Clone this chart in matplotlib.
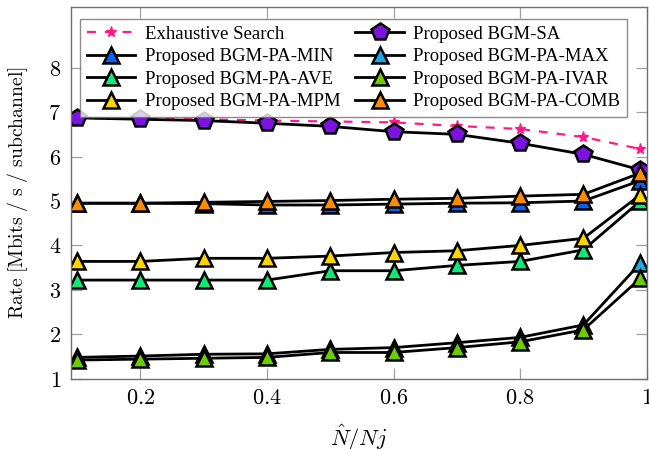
import numpy as np
import matplotlib
matplotlib.use('Agg')
import matplotlib.pyplot as plt

plt.rcParams['mathtext.fontset'] = 'cm'

# N^/Nj ratio
x = [0.1, 0.2, 0.3, 0.4, 0.5, 0.6, 0.7, 0.8, 0.9, 0.99]

# rates [Mbits/s/subchannel]
exhaustive = [6.87, 6.85, 6.84, 6.81, 6.79, 6.77, 6.69, 6.62, 6.44, 6.17]
bgm_sa     = [6.87, 6.84, 6.81, 6.75, 6.68, 6.56, 6.50, 6.30, 6.05, 5.70]
pa_min     = [4.95, 4.95, 4.94, 4.91, 4.91, 4.93, 4.95, 4.96, 5.00, 5.46]
pa_max     = [1.48, 1.51, 1.55, 1.56, 1.66, 1.70, 1.81, 1.93, 2.21, 3.60]
pa_ave     = [3.22, 3.22, 3.22, 3.22, 3.43, 3.43, 3.55, 3.64, 3.90, 5.00]
pa_ivar    = [1.42, 1.44, 1.46, 1.48, 1.59, 1.59, 1.70, 1.83, 2.10, 3.26]
pa_mpm     = [3.64, 3.64, 3.71, 3.71, 3.76, 3.84, 3.88, 4.00, 4.16, 5.14]
pa_comb    = [4.95, 4.95, 4.97, 4.99, 5.01, 5.04, 5.06, 5.11, 5.15, 5.63]

fig = plt.figure(figsize=(6.49, 4.49), dpi=100)
ax = fig.add_axes([71/649, 1-378.7/449, (646.7-71)/649, (378.7-7.3)/449])

h = {}
h['ex'], = ax.plot(x, exhaustive, ls=(0, (4, 4)), color='#ff1a8c', lw=1.6,
                   marker='*', ms=8, mec='#ff1a8c', mfc='#ff1a8c',
                   label='Exhaustive Search')
h['sa'], = ax.plot(x, bgm_sa, color='black', lw=2, marker='p', ms=13,
                   mfc='#7b12e0', mec='black', mew=1.8, label='Proposed BGM-SA')

tri = [('min', pa_min, '#1060f0', 'Proposed BGM-PA-MIN'),
       ('max', pa_max, '#1ea8e8', 'Proposed BGM-PA-MAX'),
       ('ave', pa_ave, '#10e878', 'Proposed BGM-PA-AVE'),
       ('ivar', pa_ivar, '#70cc00', 'Proposed BGM-PA-IVAR'),
       ('mpm', pa_mpm, '#ffd400', 'Proposed BGM-PA-MPM'),
       ('comb', pa_comb, '#ff8c00', 'Proposed BGM-PA-COMB')]
for key, y, c, lab in tri:
    h[key], = ax.plot(x, y, color='black', lw=2, marker='^', ms=11,
                      mfc=c, mec='black', mew=1.8, label=lab)

ax.set_xlim(0.0905, 1.0)
ax.set_ylim(1, 9.36)
ax.set_xticks([0.2, 0.4, 0.6, 0.8, 1.0])
ax.set_xticklabels(['$0.2$', '$0.4$', '$0.6$', '$0.8$', '$1$'])
ax.set_yticks(range(1, 9))
ax.set_yticklabels(['$%d$' % v for v in range(1, 9)])
ax.tick_params(direction='in', top=True, right=True, length=8, width=0.9,
               color='#a0a0a0', labelsize=16)
ax.tick_params(axis='x', pad=7)
ax.tick_params(axis='y', pad=7)
for s in ax.spines.values():
    s.set_color('#707070')
    s.set_linewidth(1.0)

ax.set_xlabel(r'$\hat{N}/Nj$', fontsize=16, labelpad=10)
ax.set_ylabel(r'$\mathrm{Rate\ [Mbits\ /\ s\ /\ subchannel]}$', fontsize=14.2, labelpad=13)

order = ['ex', 'min', 'ave', 'mpm', 'sa', 'max', 'ivar', 'comb']
leg = ax.legend([h[k] for k in order], [h[k].get_label() for k in order],
                ncol=2, loc='upper left', bbox_to_anchor=(80/649, 1-19/449),
                bbox_transform=fig.transFigure,
                prop={'family': 'Liberation Serif', 'size': 13.5},
                frameon=True, fancybox=False, borderaxespad=0,
                labelspacing=0.29, handlelength=2.6, handletextpad=0.5,
                columnspacing=0.8, borderpad=0.35)
leg.get_frame().set_edgecolor('#707070')
leg.get_frame().set_linewidth(1.0)

fig.savefig('out.png', dpi=100)
